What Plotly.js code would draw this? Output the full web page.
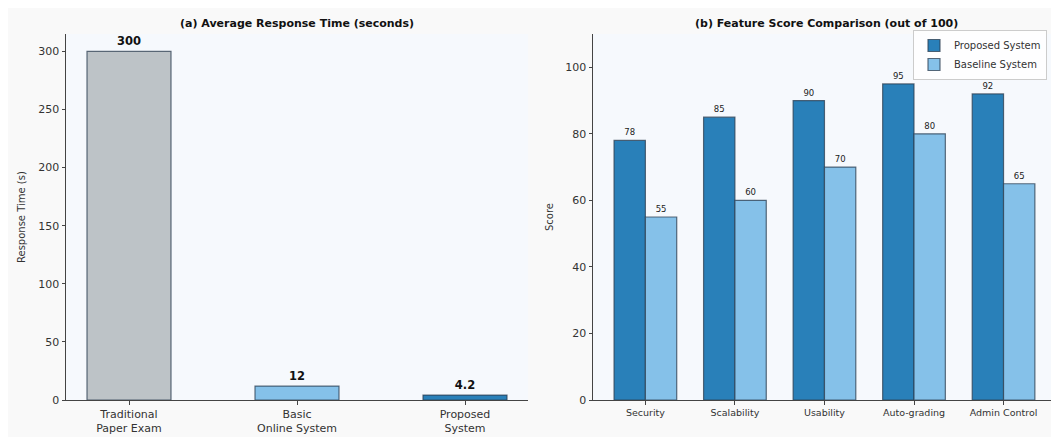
<!DOCTYPE html>
<html>
<head>
<meta charset="utf-8">
<script src="https://cdn.plot.ly/plotly-3.0.1.min.js"></script>
<style>html,body{margin:0;padding:0;background:#fff;}#chart{width:1051px;height:437px;}</style>
</head>
<body>
<div id="chart"></div>
<script>
// Panel (a) data
const methods = ["Traditional<br>Paper Exam", "Basic<br>Online System", "Proposed<br>System"];
const responseTimes = [300, 12, 4.2];
const methodColors = ["#bdc3c7", "#85c1e9", "#2980b9"];

// Panel (b) data
const features = ["Security", "Scalability", "Usability", "Auto-grading", "Admin Control"];
const proposedScores = [78, 85, 90, 95, 92];
const baselineScores = [55, 60, 70, 80, 65];

const W = 1051, H = 437;
const px = v => v / W;
const py = v => (H - v) / H;
const FONT = "DejaVu Sans, sans-serif";
const edge = {color: "rgba(44,62,80,0.75)", width: 1.2};

const traces = [
  {
    type: "bar", x: [0, 1, 2], y: responseTimes, width: 0.5,
    marker: {color: methodColors, line: edge},
    text: responseTimes.map(String), texttemplate: "<b>%{text}</b>",
    textposition: "outside", cliponaxis: false, constraintext: "none",
    textfont: {family: FONT, size: 11.5, color: "#111"},
    xaxis: "x", yaxis: "y", showlegend: false, hoverinfo: "skip"
  },
  {
    type: "bar", name: "Proposed System", x: [0, 1, 2, 3, 4], y: proposedScores,
    width: 0.35, offset: -0.35,
    marker: {color: "#2980b9", line: edge},
    text: proposedScores.map(String), textposition: "outside", cliponaxis: false, constraintext: "none",
    textfont: {family: FONT, size: 8.5, color: "#222"},
    xaxis: "x2", yaxis: "y2", hoverinfo: "skip"
  },
  {
    type: "bar", name: "Baseline System", x: [0, 1, 2, 3, 4], y: baselineScores,
    width: 0.35, offset: 0,
    marker: {color: "#85c1e9", line: edge},
    text: baselineScores.map(String), textposition: "outside", cliponaxis: false, constraintext: "none",
    textfont: {family: FONT, size: 8.5, color: "#222"},
    xaxis: "x2", yaxis: "y2", hoverinfo: "skip"
  }
];

const axCommon = {
  showline: true, linecolor: "#444", linewidth: 1, mirror: false,
  ticks: "outside", ticklen: 3.5, tickwidth: 1, tickcolor: "#444",
  showgrid: false, zeroline: false, fixedrange: true,
  tickfont: {family: FONT, size: 11, color: "#333"}
};

const layout = {
  width: W, height: H,
  margin: {l: 0, r: 0, t: 0, b: 0},
  paper_bgcolor: "#f9f9f9",
  plot_bgcolor: "#f6f9fd",
  barmode: "overlay",
  font: {family: FONT, color: "#222"},
  xaxis: Object.assign({}, axCommon, {
    domain: [px(66), px(528)], range: [-0.375, 2.375],
    tickvals: [0, 1, 2], ticktext: methods,
    tickfont: {family: FONT, size: 11, color: "#333"}
  }),
  yaxis: Object.assign({}, axCommon, {
    domain: [py(400), py(34)], range: [0, 315],
    tickvals: [0, 50, 100, 150, 200, 250, 300]
  }),
  xaxis2: Object.assign({}, axCommon, {
    domain: [px(593), 1], range: [-0.585, 4.53], anchor: "y2",
    tickvals: [0, 1, 2, 3, 4], ticktext: features,
    tickfont: {family: FONT, size: 9.5, color: "#333"}
  }),
  yaxis2: Object.assign({}, axCommon, {
    domain: [py(400), py(34)], range: [0, 110], anchor: "x2",
    tickvals: [0, 20, 40, 60, 80, 100]
  }),
  showlegend: true,
  legend: {
    x: px(913), y: py(30), xanchor: "left", yanchor: "top",
    bgcolor: "rgba(255,255,255,0.85)", bordercolor: "#cccccc", borderwidth: 1,
    font: {family: FONT, size: 10, color: "#333"},
    tracegroupgap: 0, itemwidth: 30
  },
  shapes: [
    {type: "rect", xref: "paper", yref: "paper", x0: 0, x1: 1, y0: py(8), y1: 1,
     fillcolor: "#ffffff", line: {width: 0}, layer: "below"},
    {type: "rect", xref: "paper", yref: "paper", x0: 0, x1: px(8), y0: 0, y1: 1,
     fillcolor: "#ffffff", line: {width: 0}, layer: "below"}
  ],
  annotations: [
    {text: "<b>(a) Average Response Time (seconds)</b>", xref: "paper", yref: "paper",
     x: px(297), y: py(23), xanchor: "center", yanchor: "middle", showarrow: false,
     font: {family: FONT, size: 11, color: "#111"}},
    {text: "<b>(b) Feature Score Comparison (out of 100)</b>", xref: "paper", yref: "paper",
     x: px(826), y: py(23), xanchor: "center", yanchor: "middle", showarrow: false,
     font: {family: FONT, size: 11, color: "#111"}},
    {text: "Response Time (s)", xref: "paper", yref: "paper", textangle: -90,
     x: px(22), y: py(217), xanchor: "center", yanchor: "middle", showarrow: false,
     font: {family: FONT, size: 10, color: "#333"}},
    {text: "Score", xref: "paper", yref: "paper", textangle: -90,
     x: px(550), y: py(217), xanchor: "center", yanchor: "middle", showarrow: false,
     font: {family: FONT, size: 10, color: "#333"}}
  ]
};

Plotly.newPlot("chart", traces, layout, {displayModeBar: false, staticPlot: true});
</script>
</body>
</html>
